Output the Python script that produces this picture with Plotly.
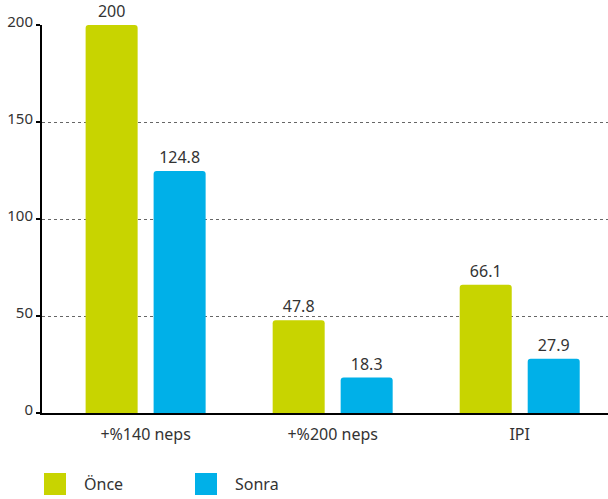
import plotly.graph_objects as go

categories = ["+%140 neps", "+%200 neps", "IPI"]
series_names = ["Önce", "Sonra"]
once_values = [200, 47.8, 66.1]
sonra_values = [124.8, 18.3, 27.9]
series_values = [once_values, sonra_values]
series_colors = ["#C8D400", "#00B0E8"]
y_ticks = [0, 50, 100, 150, 200]

FONT = "Noto Sans"
TXT = "#333333"

fig = go.Figure()
for name, vals, col in zip(series_names, series_values, series_colors):
    fig.add_trace(go.Bar(
        x=categories, y=vals, name=name,
        marker=dict(color=col, line=dict(width=0)),
        text=[f"{v:g}" for v in vals],
        textposition="outside",
        textfont=dict(family=FONT, size=16, color=TXT),
        cliponaxis=False,
        showlegend=False,
        hoverinfo="skip",
    ))

# legend drawn as squares + labels
shapes = []
annotations = []
for i, (name, col) in enumerate(zip(series_names, series_colors)):
    off = i * 151
    shapes.append(dict(
        type="rect", xref="paper", yref="paper",
        xsizemode="pixel", ysizemode="pixel", xanchor=0, yanchor=0,
        x0=2 + off, x1=24 + off, y0=-82, y1=-60,
        fillcolor=col, line=dict(width=0), layer="above",
    ))
    annotations.append(dict(
        xref="paper", yref="paper", x=0, y=0, xshift=40 + off, yshift=-71,
        xanchor="left", yanchor="middle", text=name, showarrow=False,
        font=dict(family=FONT, size=16, color=TXT),
    ))

fig.update_layout(
    width=608, height=499,
    margin=dict(l=42, r=0, t=25, b=86, autoexpand=False),
    paper_bgcolor="white", plot_bgcolor="white",
    barmode="group", bargap=0.273, bargroupgap=0.235,
    barcornerradius=3,
    font=dict(family=FONT, color=TXT),
    shapes=shapes, annotations=annotations,
    showlegend=False,
)
fig.update_xaxes(
    type="category", range=[-0.554, 2.472], automargin=False,
    showline=True, linecolor="black", linewidth=2,
    ticks="", showgrid=False,
    tickfont=dict(family=FONT, size=16, color=TXT),
    ticklabelstandoff=6,
)
fig.update_yaxes(
    range=[0, 200], tickvals=y_ticks, automargin=False,
    showline=True, linecolor="black", linewidth=2,
    ticks="outside", ticklen=4, tickwidth=2, tickcolor="black",
    showgrid=True, gridcolor="#666666", gridwidth=1, griddash="dot",
    zeroline=False,
    tickfont=dict(family=FONT, size=15, color=TXT),
    ticklabelshift=-3, ticklabelstandoff=0,
)

fig.write_html(
    "out.html",
    config={"displayModeBar": False},
    post_script="document.body.style.margin='0';document.body.style.overflow='hidden';",
)
